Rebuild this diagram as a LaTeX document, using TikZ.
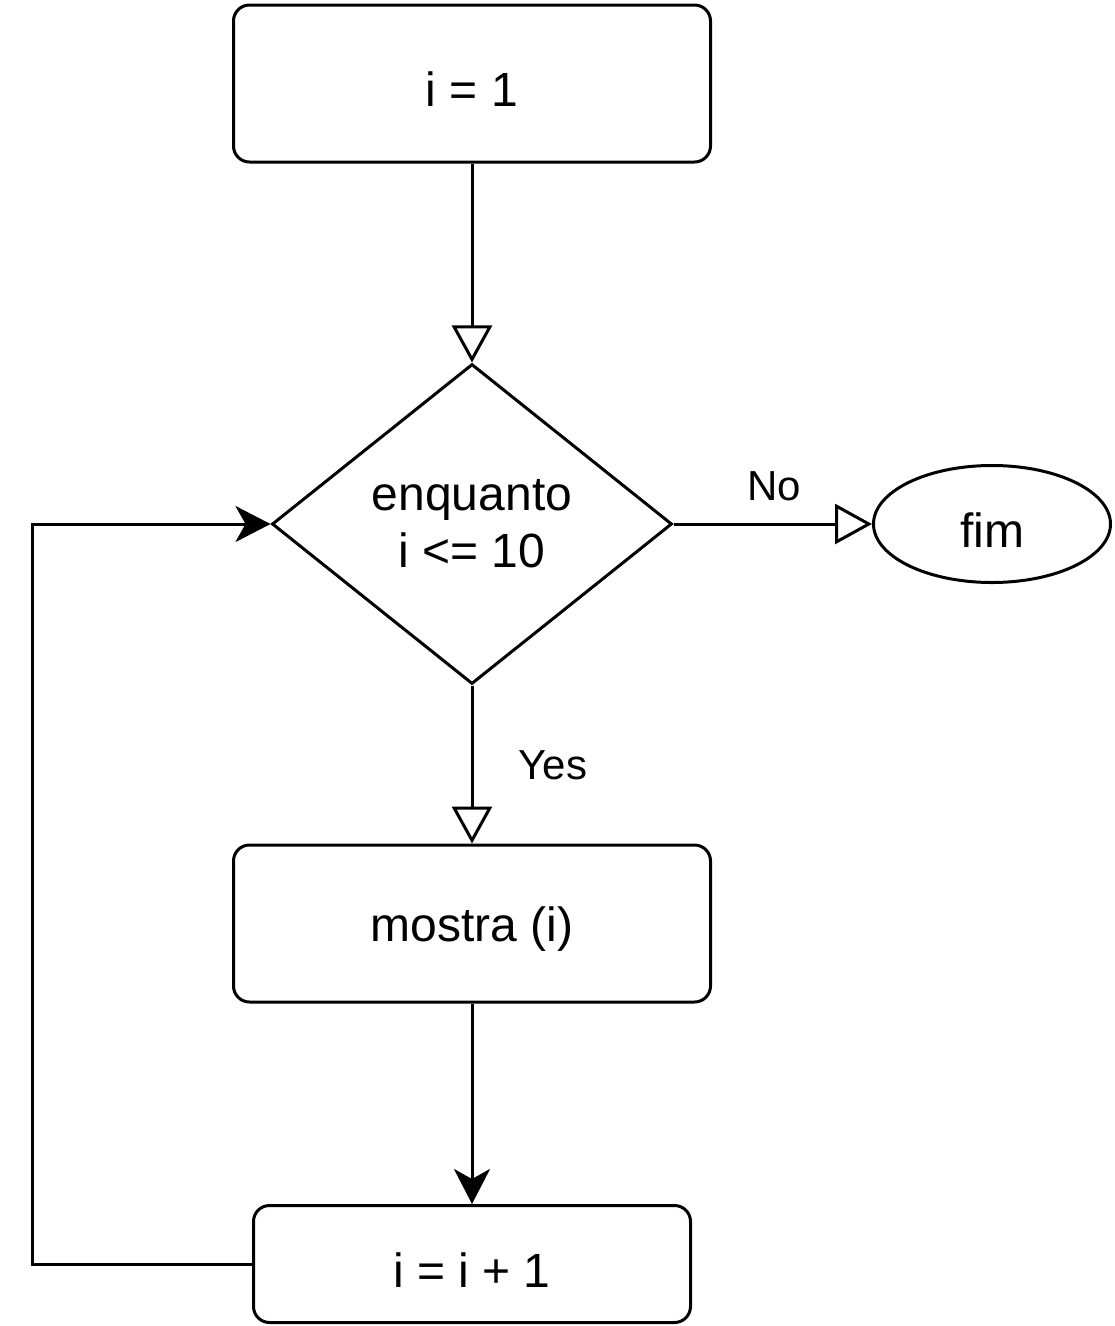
\documentclass[tikz,border=0pt]{standalone}
\usepackage{fontspec}
\setmainfont{Liberation Sans}
\usetikzlibrary{shapes.geometric,arrows.meta}
\newcommand{\dn}[1]{\raisebox{-6pt}[\height][\depth]{#1}}
\begin{document}
\begin{tikzpicture}[x=1pt,y=-1pt,line width=3pt,
  mainfont/.style={font=\fontsize{48}{57}\selectfont},
  box/.style={draw,rounded corners=16pt,minimum width=477pt,minimum height=157pt,inner sep=0pt,mainfont},
  smallbox/.style={draw,rounded corners=16pt,minimum width=437pt,minimum height=117pt,inner sep=0pt,mainfont},
  decision/.style={draw,diamond,minimum width=400pt,minimum height=320pt,inner sep=0pt,align=center,mainfont},
  terminal/.style={draw,ellipse,minimum width=237pt,minimum height=117pt,inner sep=0pt,mainfont},
  lbl/.style={inner sep=0pt,font=\fontsize{42}{48}\selectfont},
  openarrow/.style={-{Triangle[open,length=37pt,width=40pt]}},
  fullarrow/.style={-{Stealth[length=35pt,width=36pt,inset=10pt]}}
]
\useasboundingbox (0,0) rectangle (1115,1326);
\node[box] (start) at (472,83.5) {\dn{i = 1}};
\node[decision] (dec) at (472,524) {enquanto\\i <= 10};
\node[terminal] (fim) at (992,524) {\dn{fim}};
\node[box] (show) at (472,923.5) {\dn{mostra (i)}};
\node[smallbox] (inc) at (472,1264) {\dn{i = i + 1}};
\coordinate (c1) at (32,1264);
\coordinate (c2) at (32,524);
\draw[openarrow] (start) -- (dec);
\draw[openarrow] (dec.east) -- (fim.west);
\draw[openarrow] (dec.south) -- (show.north);
\draw[fullarrow] (show) -- (inc);
\draw[fullarrow] (inc.west) -- (c1) -- (c2) -- (dec.west);
\node[lbl] (no) at (774,486) {No};
\node[lbl] (yes) at (553,765) {Yes};
\end{tikzpicture}
\end{document}
